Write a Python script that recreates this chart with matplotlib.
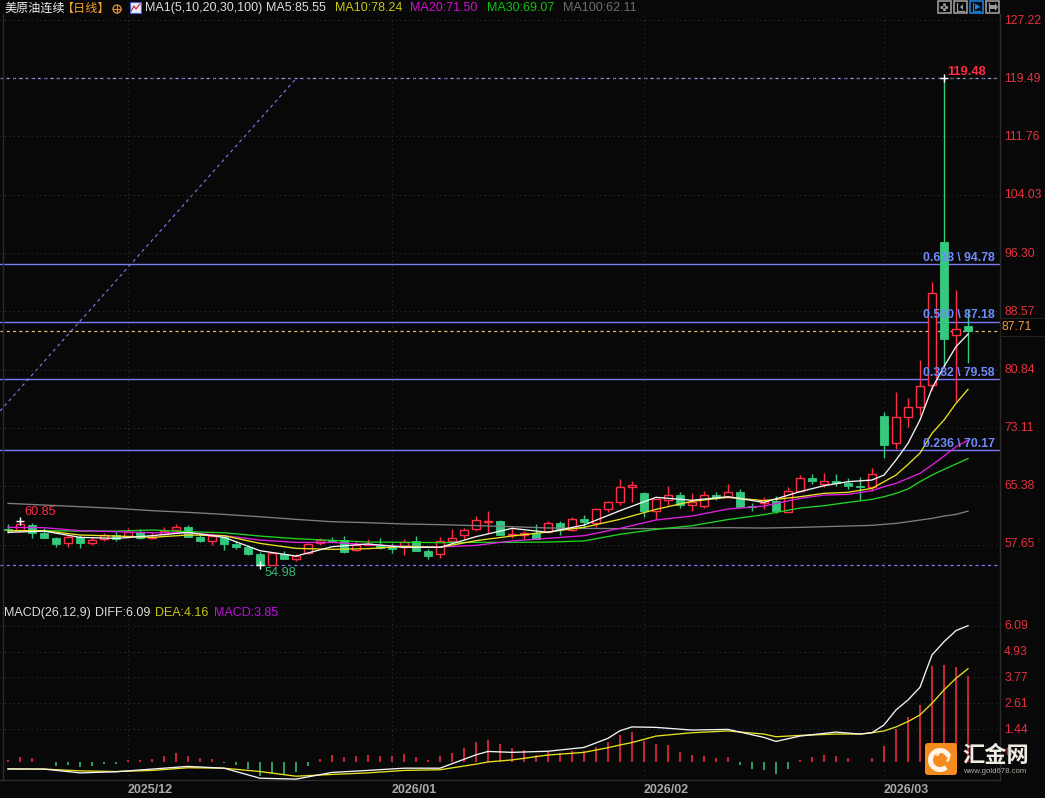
import matplotlib
matplotlib.use("Agg")
import matplotlib.pyplot as plt
from matplotlib.patches import FancyBboxPatch, Rectangle, Wedge, Circle, Polygon
from matplotlib.transforms import ScaledTranslation
import numpy as np

# ---------- data ----------
opens = [59.70,59.61,60.27,59.25,58.50,57.93,58.64,57.93,58.42,58.90,58.81,59.30,58.50,59.08,59.61,60.00,58.68,58.19,58.64,57.75,
         57.36,56.43,55.00,56.43,55.81,56.52,57.84,58.24,58.24,56.96,57.67,57.63,57.36,57.32,58.11,56.83,56.39,58.20,58.91,59.79,
         60.72,60.80,58.99,58.91,59.17,59.39,60.54,59.57,61.03,60.58,62.44,63.37,65.35,64.51,62.17,63.63,64.25,62.96,62.83,64.25,
         64.02,64.64,62.79,63.14,63.41,62.04,64.77,66.50,65.75,66.06,65.88,65.39,65.26,74.71,71.09,74.63,75.95,78.86,97.76,85.49,86.63]
closes = [59.61,60.36,59.25,58.59,57.80,58.64,57.93,58.28,58.90,58.37,59.30,58.50,58.72,59.43,59.96,58.72,58.19,58.81,57.75,57.36,
          56.43,55.02,56.52,55.81,56.16,57.71,58.28,58.11,56.69,57.63,57.76,57.27,57.14,58.07,56.88,56.17,58.11,58.51,59.57,60.89,
          60.76,58.99,59.08,59.17,58.42,60.50,59.70,61.03,60.67,62.35,63.28,65.26,65.57,62.13,63.67,64.25,62.97,63.32,64.20,63.80,
          64.60,62.61,62.66,63.58,62.13,64.73,66.45,66.14,66.06,65.79,65.44,65.30,66.98,70.92,74.54,75.86,78.64,90.96,84.96,86.19,85.93]
highs = [60.40,60.85,60.49,59.83,58.64,58.95,58.95,58.64,59.17,59.39,59.83,59.70,59.39,59.96,60.40,60.27,58.95,59.17,58.81,58.19,
         57.62,56.74,56.52,56.83,56.43,57.84,58.50,58.72,58.81,58.20,58.38,58.51,57.94,58.38,58.82,57.14,58.64,59.70,59.83,61.47,
         62.09,60.94,60.05,59.48,60.36,60.80,60.80,61.33,61.56,62.57,63.50,66.32,66.10,64.65,63.81,65.44,64.65,64.47,64.77,64.69,
         65.70,65.04,63.14,63.94,64.11,65.31,66.89,67.03,67.16,67.03,66.50,66.63,67.82,75.20,77.89,77.10,82.13,92.51,119.48,91.40,88.89]
lows = [59.17,59.39,58.59,58.50,57.40,57.40,57.18,57.62,58.19,58.19,58.50,58.37,58.37,58.95,59.17,58.64,58.02,57.62,56.96,57.05,
        56.30,54.98,54.98,55.72,55.50,56.43,57.62,58.02,56.60,56.88,57.58,57.14,56.61,56.35,56.83,55.82,55.95,57.94,58.42,59.48,
        59.17,58.95,58.51,58.42,58.38,59.30,58.95,59.48,60.05,60.05,62.00,62.92,63.37,61.38,61.03,62.92,62.57,62.17,62.48,63.58,
        63.94,62.48,62.17,62.39,61.82,62.04,64.60,65.70,65.35,65.48,65.04,63.58,64.77,69.20,70.34,73.26,74.85,78.16,81.25,76.70,81.78]

ma_idx = [0,3,6,9,12,15,18,21,24,27,30,33,36,39,42,45,48,51,54,57,60,63,66,68,70,72,73,74,75,76,77,78,79,80]
ma5 = [59.30,59.47,58.64,58.50,58.86,59.30,58.64,56.87,56.16,57.40,57.76,57.32,57.32,58.73,59.83,59.30,60.27,62.17,63.94,63.55,
       64.02,63.27,64.69,65.48,66.01,66.23,66.89,68.88,71.09,74.19,78.38,81.25,83.90,85.55]
ma10 = [59.52,59.52,58.95,58.81,58.64,58.95,58.86,57.84,57.18,57.05,57.14,57.45,57.32,58.20,58.82,59.35,59.97,61.03,62.35,63.41,
        63.94,63.50,64.02,64.47,64.60,65.13,66.01,66.89,68.30,69.80,72.42,74.18,76.39,78.24]
ma20 = [59.96,59.92,59.52,59.39,59.25,59.25,58.86,58.28,57.97,57.97,57.67,57.45,57.36,57.58,58.16,58.51,58.86,59.83,60.94,61.46,
        62.39,62.79,63.80,64.24,64.33,64.82,65.35,65.79,66.45,67.12,68.22,69.40,70.65,71.50]
ma30 = [59.52,59.52,59.47,59.47,59.61,59.39,59.25,58.81,58.46,58.24,58.02,57.98,57.94,57.98,57.98,58.02,58.16,59.04,59.70,60.18,
        61.00,61.64,62.52,62.83,63.27,63.67,64.02,64.47,65.04,66.01,66.89,67.64,68.35,69.07]
ma100 = [63.14,62.92,62.70,62.48,62.17,61.95,61.68,61.37,61.02,60.71,60.58,60.41,60.32,60.19,60.05,59.88,59.83,59.79,59.79,59.87,
         59.92,59.87,59.96,60.05,60.14,60.23,60.36,60.49,60.71,60.93,61.15,61.46,61.68,62.11]

macd_bars = [0.07,0.21,0.16,-0.02,-0.19,-0.15,-0.24,-0.19,-0.10,-0.10,0.07,0.07,0.12,0.25,0.39,0.25,0.16,0.12,-0.07,-0.15,
             -0.33,-0.64,-0.55,-0.55,-0.46,-0.19,0.12,0.30,0.21,0.25,0.30,0.25,0.25,0.34,0.21,0.07,0.25,0.39,0.61,0.88,
             0.97,0.78,0.61,0.52,0.29,0.44,0.37,0.47,0.47,0.65,0.86,1.19,1.32,0.93,0.78,0.74,0.41,0.29,0.25,0.16,
             0.20,-0.16,-0.34,-0.38,-0.56,-0.34,0.07,0.20,0.29,0.25,0.16,-0.02,0.16,0.70,1.46,2.00,2.53,4.28,4.33,4.24,3.85]
macd_idx = [0,3,6,9,12,15,18,21,24,27,30,33,36,39,40,42,45,48,50,51,52,54,57,60,63,64,66,69,71,72,73,74,75,76,77,78,79,80]
diff = [-0.33,-0.34,-0.51,-0.46,-0.34,-0.22,-0.30,-0.75,-0.79,-0.49,-0.40,-0.30,-0.30,0.30,0.45,0.41,0.46,0.63,1.04,1.38,1.55,
        1.53,1.41,1.44,1.08,0.90,1.14,1.32,1.23,1.29,1.64,2.31,2.76,3.33,4.78,5.37,5.87,6.09]
dea = [-0.34,-0.34,-0.42,-0.45,-0.40,-0.28,-0.30,-0.45,-0.66,-0.58,-0.51,-0.40,-0.37,-0.12,-0.02,0.07,0.29,0.41,0.62,0.74,0.85,
       1.14,1.29,1.37,1.23,1.11,1.17,1.23,1.23,1.29,1.37,1.55,1.79,2.09,2.61,3.21,3.73,4.16]

price_ticks = [127.22,119.49,111.76,104.03,96.30,88.57,80.84,73.11,65.38,57.65]
macd_ticks = [6.09,4.93,3.77,2.61,1.44]
fib_levels = [94.78,87.18,79.58,70.17]
fib_names = ["0.618","0.500","0.382","0.236"]
month_idx = [10,32,53,73]
month_labels = ["2025/12","2026/01","2026/02","2026/03"]
high_value, low_value, last_line, last_label = 119.48, 54.98, 85.97, 87.71
trend_x = [-0.67, 23.9]
trend_y = [75.37, 119.21]
extreme_x = [78, 1, 21]
extreme_y = [119.48, 60.85, 54.98]

# ---------- style ----------
W, H = 1045, 798
BG = "#080808"; UP = "#ff2d46"; DOWN = "#35c97f"; AXISRED = "#e4323f"
FIB = "#7c7cf5"; FIBTXT = "#6f8cff"; SEP = "#2c2c2c"
FONT = ["Liberation Sans", "Noto Sans CJK SC", "DejaVu Sans"]
CJK = ["Noto Sans CJK SC", "Liberation Sans", "DejaVu Sans"]
plt.rcParams["font.family"] = FONT

fig = plt.figure(figsize=(W/100, H/100), dpi=100, facecolor=BG)
def px_axes(l, t, r, b):
    return fig.add_axes([l/W, 1-b/H, (r-l)/W, (b-t)/H], facecolor=BG)

xl = (-8/12, 992/12)
ax = px_axes(0, 14, 1000, 603)
ax2 = px_axes(0, 603, 1000, 780)
pscale = 7.55
ax.set_xlim(*xl); ax.set_ylim(119.48-(603-78)/pscale, 119.48+(78-14)/pscale)
mscale = 22.3
ax2.set_xlim(*xl); ax2.set_ylim(-(780-761.5)/mscale, (761.5-603)/mscale)

for a in (ax, ax2):
    for s in a.spines.values():
        s.set_color(SEP); s.set_linewidth(1)
    a.spines["top"].set_visible(False)
    a.spines["left"].set_position(("data", xl[0]+3/12))
    a.yaxis.tick_right()
    a.tick_params(axis="y", length=0, pad=3, labelsize=8.7, labelcolor=AXISRED)
    a.tick_params(axis="x", length=0)
    for m in month_idx:
        a.axvline(m, color="#303030", lw=0.8, ls=(0, (1, 3)), zorder=0)

ax.set_yticks(price_ticks); ax.set_yticklabels([f"{v:.2f}" for v in price_ticks])
ax.set_xticks([])
ax.grid(axis="y", color="#303030", lw=0.8, ls=(0, (1, 3)), zorder=0)
ax2.set_yticks(macd_ticks); ax2.set_yticklabels([f"{v:.2f}" for v in macd_ticks])
ax2.grid(axis="y", color="#303030", lw=0.8, ls=(0, (1, 3)), zorder=0)
ax2.set_xticks(month_idx)
ax2.set_xticklabels(month_labels, ha="left", color="#a8a8a8", fontsize=9, fontweight="bold")
ax2.tick_params(axis="x", pad=3)
for k, lab in enumerate(ax.get_yticklabels()):
    lab.set_transform(lab.get_transform() + ScaledTranslation(0, 0.0022*k, fig.dpi_scale_trans))
for lab in ax2.get_yticklabels():
    lab.set_transform(lab.get_transform() + ScaledTranslation(0, 0.012, fig.dpi_scale_trans))
for lab in ax2.get_xticklabels():
    lab.set_transform(lab.get_transform() + ScaledTranslation(0.0, 0, fig.dpi_scale_trans))

# levels
for v in fib_levels:
    ax.axhline(v, color=FIB, lw=1, zorder=1)
ax.axhline(high_value, color="#a0a0f0", lw=0.9, ls=(0, (2.5, 2.5)), zorder=1)
ax.axhline(low_value, color=FIB, lw=0.9, ls=(0, (2.5, 2.5)), zorder=1)
ax.axhline(last_line, color="#e8b878", lw=0.9, ls=(0, (2.5, 2.5)), zorder=1)
ax.plot(trend_x, trend_y, color=FIB, lw=0.8, ls=(0, (3, 3)), zorder=1)

# candles
bw = 0.72
for i, (o, c, h, l) in enumerate(zip(opens, closes, highs, lows)):
    up = c >= o
    col = UP if up else DOWN
    top, bot = max(o, c), min(o, c)
    ax.plot([i, i], [top, h], color=col, lw=1, solid_capstyle="butt", zorder=3)
    ax.plot([i, i], [l, bot], color=col, lw=1, solid_capstyle="butt", zorder=3)
    if up:
        ax.add_patch(Rectangle((i-bw/2, bot), bw, max(top-bot, 0.02), fc=BG, ec=col, lw=1, zorder=3))
    else:
        ax.add_patch(Rectangle((i-bw/2, bot), bw, max(top-bot, 0.02), fc=col, ec=col, lw=0.6, zorder=3))

for ys, col in [(ma100, "#7e7e7e"), (ma30, "#22d322"), (ma20, "#e020e0"), (ma10, "#e8e020"), (ma5, "#f4f4f4")]:
    ax.plot(ma_idx, ys, color=col, lw=0.95, zorder=4)
ax.plot(extreme_x, extreme_y, ls="none", marker="+", ms=6, mew=1, color="white", zorder=5)

# annotations
ax.text(78.3, high_value+0.85, f"{high_value:.2f}", color=UP, fontsize=9.3, fontweight="bold", va="center", zorder=6)
ax.text(1.4, 62.05, "60.85", color=UP, fontsize=9.2, va="center", zorder=6)
ax.text(21.4, 53.95, "54.98", color="#35b878", fontsize=9.2, va="center", zorder=6)
for v, n in zip(fib_levels, fib_names):
    ax.text(82.25, v+0.85, f"{n} \\ {v:.2f}", color=FIBTXT, fontsize=8.8, fontweight="bold",
            ha="right", va="center", zorder=6)

# macd
for i, v in enumerate(macd_bars):
    ax2.plot([i, i], [0, v], color=UP if v >= 0 else DOWN, lw=1.1, solid_capstyle="butt", zorder=3)
ax2.plot(macd_idx, dea, color="#e8e020", lw=0.95, zorder=4)
ax2.plot(macd_idx, diff, color="#f4f4f4", lw=0.95, zorder=5)

# header text
def header(x, y, s, col, fam=FONT, fs=9.0):
    fig.text(x/W, 1-y/H, s, color=col, fontsize=fs, family=fam, ha="left", va="center", zorder=8)
header(4, 8, "美原油连续", "#f0f0f0", CJK, 8.7)
header(62, 8, "【日线】", "#f0a030", CJK, 8.7)
header(145, 8, "MA1(5,10,20,30,100)", "#dcdcdc")
header(266, 8, "MA5:85.55", "#dcdcdc")
header(335, 8, "MA10:78.24", "#c8c810")
header(410, 8, "MA20:71.50", "#d010d0")
header(487, 8, "MA30:69.07", "#10c010")
header(563, 8, "MA100:62.11", "#6e6e6e")
header(4, 613, "MACD(26,12,9)", "#dcdcdc")
header(95, 613, "DIFF:6.09", "#dcdcdc")
header(155, 613, "DEA:4.16", "#c8c810")
header(214, 613, "MACD:3.85", "#c010e0")

# overlay in pixel coordinates
ov = fig.add_axes([0, 0, 1, 1], facecolor="none", zorder=10)
ov.set_xlim(0, W); ov.set_ylim(H, 0); ov.axis("off")
ov.add_patch(Rectangle((1000, 318), 45, 18, fc="#050505", ec="#222222", lw=0.8))
ov.text(1002, 327, f"{last_label:.2f}", color="#f09a3e", fontsize=8.7, ha="left", va="center")
ov.text(1005, 753, "0", color=AXISRED, fontsize=8.7, ha="left", va="center")

ov.add_patch(Circle((117, 9), 4, fc="none", ec="#e8902a", lw=0.9))
ov.plot([113, 121], [9, 9], color="#e8902a", lw=0.8); ov.plot([117, 117], [5, 13], color="#e8902a", lw=0.8)
ov.add_patch(Rectangle((130, 2), 11, 11, fc="#e8e8ff", ec="#4060d0", lw=0.8))
ov.plot([131, 134, 136, 140], [11, 6, 9, 4], color="#d02020", lw=0.8)

# toolbar
for k, x in enumerate([938, 954, 970, 986]):
    ec = "#1a80d8" if k == 2 else "#9a9a9a"
    ov.add_patch(Rectangle((x, 0.8), 12.5, 12.5, fc="none", ec=ec, lw=1.2))
ov.plot([944.2, 944.2], [3, 11], color="#9a9a9a", lw=2, ls=(0, (1, 0.7)))
ov.plot([940, 948.5], [7, 7], color="#9a9a9a", lw=2, ls=(0, (1, 0.7)))
ov.plot([957, 957, 964], [3, 10.5, 10.5], color="#9a9a9a", lw=0.9)
ov.add_patch(Polygon([[960, 7], [963, 4], [963, 10]], fc="#9a9a9a", ec="none"))
ov.plot([973, 973, 980], [3, 10.5, 10.5], color="#1a80d8", lw=0.9)
ov.add_patch(Polygon([[975, 3.5], [975, 10], [980.5, 6.8]], fc="#1a80d8", ec="none"))
ov.plot([989, 989], [3, 11], color="#9a9a9a", lw=0.9)
ov.add_patch(Polygon([[990, 5], [995, 5], [995, 3], [998, 7], [995, 11], [995, 9], [990, 9]], fc="#9a9a9a", ec="none"))

# logo
ov.add_patch(FancyBboxPatch((925, 743), 32, 32, boxstyle="round,pad=0,rounding_size=3", fc="#f58a1f", ec="none"))
ov.add_patch(Wedge((940, 760), 12, 50, 340, width=5, fc="#fff4e6", ec="none"))
ov.add_patch(Wedge((943, 757), 7, 190, 50, width=2.2, fc="#fff4e6", ec="none"))
ov.text(962, 755.5, "汇金网", color="#f0ece4", fontsize=16, family=CJK, fontweight="bold", ha="left", va="center")
ov.text(963, 771.5, "www.gold678.com", color="#b0aca4", fontsize=5.6, ha="left", va="center")

fig.savefig("out.png", dpi=100, facecolor=BG)
